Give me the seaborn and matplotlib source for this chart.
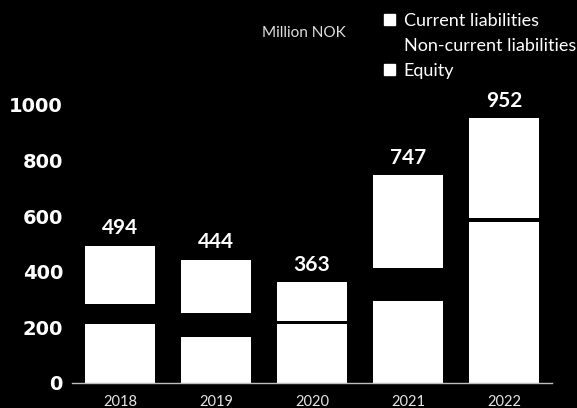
import matplotlib.pyplot as plt
import matplotlib.patches as mpatches
import pandas as pd
import seaborn as sns

# Data (Million NOK)
years = ["2018", "2019", "2020", "2021", "2022"]
equity = [211, 167, 212, 294, 580]
non_current = [73, 86, 12, 121, 12]
current = [210, 191, 139, 332, 360]

df = pd.DataFrame({"year": years, "equity": equity,
                   "non_current": non_current, "current": current})
df["lower_two"] = df["equity"] + df["non_current"]
df["total"] = df["lower_two"] + df["current"]

sns.set_style("dark", {"axes.facecolor": "black", "figure.facecolor": "black"})

fig = plt.figure(figsize=(5.77, 4.08), dpi=100)
fig.patch.set_facecolor("black")
ax = fig.add_axes([72 / 577, 25 / 408, 480 / 577, 278 / 408])
ax.set_facecolor("black")

# Stacked bars by overlaying cumulative totals
bar_kw = dict(width=0.72, saturation=1, linewidth=0, ax=ax)
sns.barplot(data=df, x="year", y="total", color="white", zorder=2, **bar_kw)
sns.barplot(data=df, x="year", y="lower_two", color="black", zorder=3, **bar_kw)
sns.barplot(data=df, x="year", y="equity", color="white", zorder=4, **bar_kw)

ax.set_xlim(-0.5, 4.5)
ax.set_ylim(0, 1000)
ax.set_yticks([0, 200, 400, 600, 800, 1000])
ax.set_xlabel("")
ax.set_ylabel("")
ax.grid(False)

for side in ["top", "right", "left"]:
    ax.spines[side].set_visible(False)
ax.spines["bottom"].set_color("#bfbfbf")
ax.spines["bottom"].set_linewidth(1.0)
ax.spines["bottom"].set_zorder(5)

ax.tick_params(axis="both", length=0)
ax.tick_params(axis="y", pad=6.5)
ax.tick_params(axis="x", pad=9)
for lbl in ax.get_yticklabels():
    lbl.set_fontfamily("DejaVu Sans")
    lbl.set_fontweight("bold")
    lbl.set_fontsize(14)
    lbl.set_color("white")
for lbl in ax.get_xticklabels():
    lbl.set_fontfamily("Lato")
    lbl.set_fontweight("normal")
    lbl.set_fontsize(10.5)
    lbl.set_color("#e6e6e6")

# Total labels above bars
for i, t in enumerate(df["total"]):
    ax.text(i, t + 26, f"{t}", ha="center", va="bottom", color="white",
            fontsize=15, fontweight="bold", family="Lato", clip_on=False)

fig.text(262 / 577, 1 - 33 / 408, "Million NOK", color="#e0e0e0",
         fontsize=11, family="Lato", va="center", ha="left")

handles = [
    mpatches.Patch(facecolor="white", edgecolor="white", label="Current liabilities"),
    mpatches.Patch(facecolor="black", edgecolor="black", label="Non-current liabilities"),
    mpatches.Patch(facecolor="white", edgecolor="white", label="Equity"),
]
leg = fig.legend(handles=handles, loc="upper left",
                 bbox_to_anchor=(384 / 577, 1 - 13 / 408), frameon=False,
                 handlelength=0.6, handleheight=0.6, handletextpad=0.5,
                 labelspacing=0.5, borderaxespad=0, borderpad=0,
                 prop={"family": "Lato", "size": 13})
for txt in leg.get_texts():
    txt.set_color("white")

fig.savefig("out.png", dpi=100, facecolor="black")
